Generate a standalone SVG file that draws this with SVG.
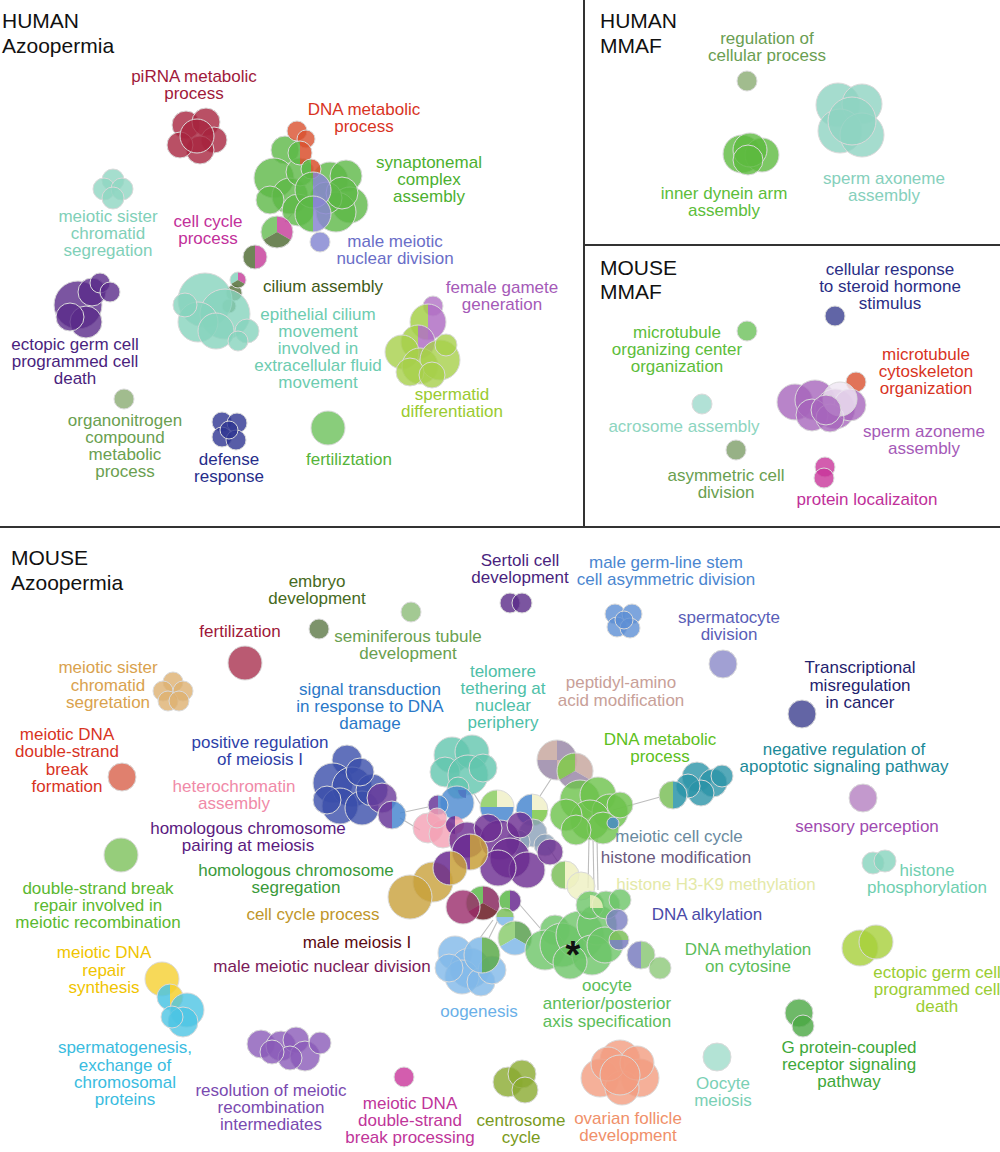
<svg xmlns="http://www.w3.org/2000/svg" width="1000" height="1152" viewBox="0 0 1000 1152">
<style>
text{font-family:"Liberation Sans",Arial,Helvetica,sans-serif;font-size:17px;text-anchor:middle}
.t{font-size:21px;fill:#111;text-anchor:start}
circle{fill-opacity:.8;stroke:#dadada;stroke-width:1}
.s{fill-opacity:.85;stroke:none}
.ol{fill:none;fill-opacity:0;stroke:#dadada;stroke-width:1}
.frame{stroke:#333;stroke-width:2}
.cn{stroke:#bdbdbd;stroke-width:1.1;fill:none}
</style>
<rect width="1000" height="1152" fill="#fff"/>
<g id="frames">
<line class="frame" x1="584" y1="0" x2="584" y2="527"/>
<line class="frame" x1="584" y1="245" x2="1000" y2="245"/>
<line class="frame" x1="0" y1="527" x2="1000" y2="527"/>
</g>
<g id="titles">
<text class="t" x="2" y="28">HUMAN</text><text class="t" x="2" y="53">Azoopermia</text>
<text class="t" x="600" y="28">HUMAN</text><text class="t" x="600" y="53">MMAF</text>
<text class="t" x="600" y="275">MOUSE</text><text class="t" x="600" y="299">MMAF</text>
<text class="t" x="11" y="565">MOUSE</text><text class="t" x="11" y="590">Azoopermia</text>
</g>
<g id="connectors">
<line class="cn" x1="400" y1="813" x2="428" y2="807"/>
<line class="cn" x1="400" y1="818" x2="420" y2="830"/>
<line class="cn" x1="613" y1="810" x2="660" y2="797"/>
<line class="cn" x1="589" y1="838" x2="588" y2="888"/>
<line class="cn" x1="593" y1="838" x2="594" y2="890"/>
<line class="cn" x1="597" y1="838" x2="598" y2="890"/>
<line class="cn" x1="493" y1="920" x2="480" y2="938"/>
<line class="cn" x1="498" y1="920" x2="489" y2="938"/>
<line class="cn" x1="520" y1="905" x2="540" y2="928"/>
<line class="cn" x1="548" y1="847" x2="558" y2="862"/>
<line class="cn" x1="540" y1="796" x2="551" y2="779"/>
<line class="cn" x1="473" y1="792" x2="481" y2="805"/>
<line class="cn" x1="292" y1="214" x2="285" y2="222"/>
</g>
<!-- HUMAN Azoopermia -->
<g id="h-pirna" fill="#a8243f">
<circle cx="186" cy="125" r="14"/><circle cx="206" cy="122" r="14"/><circle cx="214" cy="140" r="13"/><circle cx="200" cy="150" r="14"/><circle cx="180" cy="145" r="13"/><circle cx="197" cy="136" r="17"/>
<text fill="#a0193a"><tspan x="194" y="82">piRNA metabolic</tspan><tspan x="194" y="99">process</tspan></text>
</g>
<g id="h-sister" fill="#8fd6c2">
<circle cx="113" cy="180" r="11"/><circle cx="104" cy="189" r="11"/><circle cx="122" cy="189" r="11"/><circle cx="113" cy="198" r="11"/>
<text fill="#7fd0b8"><tspan x="108" y="222">meiotic sister</tspan><tspan x="108" y="239">chromatid</tspan><tspan x="108" y="256">segregation</tspan></text>
</g>
<g id="h-synaptonemal" fill="#5cb846">
<circle cx="285" cy="150" r="14"/><circle cx="274" cy="178" r="20"/><circle cx="290" cy="196" r="18"/><circle cx="270" cy="200" r="14"/><circle cx="300" cy="172" r="14"/><circle cx="330" cy="180" r="18"/><circle cx="346" cy="176" r="16"/><circle cx="350" cy="205" r="18"/><circle cx="336" cy="212" r="20"/><circle cx="326" cy="198" r="16"/><circle cx="298" cy="210" r="16"/><circle cx="342" cy="193" r="16"/>
<text fill="#4cb030"><tspan x="429" y="168">synaptonemal</tspan><tspan x="429" y="185">complex</tspan><tspan x="429" y="202">assembly</tspan></text>
</g>
<g id="h-dnametab">
<circle cx="297" cy="131" r="10" fill="#d9502e"/><circle cx="306" cy="139" r="9" fill="#d9502e"/>
<path class="s" fill="#5cb846" d="M300,141 A12,12 0 0 0 300,165 Z"/><path class="s" fill="#d9502e" d="M300,141 A12,12 0 0 1 300,165 Z"/><circle class="ol" cx="300" cy="153" r="12"/>
<path class="s" fill="#5cb846" d="M311,159 A10,10 0 0 0 311,179 Z"/><path class="s" fill="#d9502e" d="M311,159 A10,10 0 0 1 311,179 Z"/><circle class="ol" cx="311" cy="169" r="10"/>
<text fill="#d8341f"><tspan x="364" y="115">DNA metabolic</tspan><tspan x="364" y="132">process</tspan></text>
</g>
<g id="h-malemeiotic">
<path class="s" fill="#5cb846" d="M313,172 A18,18 0 0 0 313,208 Z"/><path class="s" fill="#8a86d2" d="M313,172 A18,18 0 0 1 313,208 Z"/><circle class="ol" cx="313" cy="190" r="18"/>
<path class="s" fill="#5cb846" d="M313,196 A18,18 0 0 0 313,232 Z"/><path class="s" fill="#8a86d2" d="M313,196 A18,18 0 0 1 313,232 Z"/><circle class="ol" cx="313" cy="214" r="18"/>
<circle cx="320" cy="242" r="10" fill="#7f82cf"/>
<text fill="#6a6ec8"><tspan x="395" y="247">male meiotic</tspan><tspan x="395" y="264">nuclear division</tspan></text>
</g>
<g id="h-cellcycle">
<path class="s" fill="#6cc05a" d="M277,232 L263.14,240 A16,16 0 0 1 277,216 Z"/><path class="s" fill="#c8449e" d="M277,232 L277,216 A16,16 0 0 1 290.86,240 Z"/><path class="s" fill="#55703a" d="M277,232 L290.86,240 A16,16 0 0 1 263.14,240 Z"/><circle class="ol" cx="277" cy="232" r="16"/>
<text fill="#c2309a"><tspan x="208" y="227">cell cycle</tspan><tspan x="208" y="244">process</tspan></text>
</g>
<g id="h-cilium">
<circle cx="234" cy="293" r="8" fill="#55703a"/><circle cx="229" cy="306" r="7" fill="#55703a"/>
<path class="s" fill="#55703a" d="M255,245 A12,12 0 0 0 255,269 Z"/><path class="s" fill="#c8449e" d="M255,245 A12,12 0 0 1 255,269 Z"/><circle class="ol" cx="255" cy="257" r="12"/>
<text fill="#3f5a18" x="323" y="292">cilium assembly</text>
</g>
<g id="h-epithelial" fill="#86d3bd">
<circle cx="205" cy="300" r="27"/><circle cx="225" cy="314" r="25"/><circle cx="198" cy="322" r="20"/><circle cx="216" cy="331" r="18"/><circle cx="247" cy="331" r="12"/><circle cx="238" cy="341" r="10"/><circle cx="185" cy="305" r="12"/>
<path class="s" fill="#86d3bd" d="M238,280 L231.07,284 A8,8 0 0 1 238,272 Z"/><path class="s" fill="#c8449e" d="M238,280 L238,272 A8,8 0 0 1 244.93,284 Z"/><path class="s" fill="#55703a" d="M238,280 L244.93,284 A8,8 0 0 1 231.07,284 Z"/><circle class="ol" cx="238" cy="280" r="8"/>
<text fill="#6dccb0"><tspan x="318" y="320">epithelial cilium</tspan><tspan x="318" y="337">movement</tspan><tspan x="318" y="354">involved in</tspan><tspan x="318" y="371">extracellular fluid</tspan><tspan x="318" y="388">movement</tspan></text>
</g>
<g id="h-female">
<circle cx="433" cy="306" r="10" fill="#b070c4"/>
<path class="s" fill="#a6d04a" d="M428,304 A18,18 0 0 0 428,340 Z"/><path class="s" fill="#b070c4" d="M428,304 A18,18 0 0 1 428,340 Z"/><circle class="ol" cx="428" cy="322" r="18"/>
<path class="s" fill="#a6d04a" d="M418,325 A17,17 0 0 0 418,359 Z"/><path class="s" fill="#b070c4" d="M418,325 A17,17 0 0 1 418,359 Z"/><circle class="ol" cx="418" cy="342" r="17"/>
<text fill="#a55ab8"><tspan x="502" y="293">female gamete</tspan><tspan x="502" y="310">generation</tspan></text>
</g>
<g id="h-spermatid" fill="#a6d04a">
<circle cx="402" cy="352" r="17"/><circle cx="420" cy="366" r="18"/><circle cx="440" cy="360" r="20"/><circle cx="410" cy="372" r="14"/><circle cx="432" cy="375" r="13"/><circle cx="446" cy="345" r="11"/>
<text fill="#9acb30"><tspan x="452" y="400">spermatid</tspan><tspan x="452" y="417">differentiation</tspan></text>
</g>
<g id="h-ectopic" fill="#5a2a8a">
<circle cx="78" cy="305" r="24"/><circle cx="92" cy="292" r="14"/><circle cx="100" cy="283" r="10"/><circle cx="110" cy="292" r="10"/><circle cx="86" cy="322" r="16"/><circle cx="70" cy="317" r="14"/>
<text fill="#4a1f7e"><tspan x="75" y="350">ectopic germ cell</tspan><tspan x="75" y="367">programmed cell</tspan><tspan x="75" y="384">death</tspan></text>
</g>
<g id="h-organonitrogen">
<circle cx="124" cy="399" r="10" fill="#8aab72"/>
<text fill="#6aa050"><tspan x="125" y="426">organonitrogen</tspan><tspan x="125" y="443">compound</tspan><tspan x="125" y="460">metabolic</tspan><tspan x="125" y="477">process</tspan></text>
</g>
<g id="h-defense" fill="#2e3591">
<circle cx="222" cy="422" r="10"/><circle cx="237" cy="423" r="10"/><circle cx="222" cy="437" r="10"/><circle cx="236" cy="440" r="10"/><circle cx="229" cy="430" r="9"/>
<text fill="#262d8a"><tspan x="229" y="465">defense</tspan><tspan x="229" y="482">response</tspan></text>
</g>
<g id="h-fertilization">
<circle cx="328" cy="428" r="17" fill="#6cc05a"/>
<text fill="#55b43a" x="349" y="465">fertiliztation</text>
</g>
<!-- HUMAN MMAF -->
<g id="hm-regulation">
<circle cx="747" cy="81" r="10" fill="#8aab72"/>
<text fill="#6a9e52"><tspan x="767" y="44">regulation of</tspan><tspan x="767" y="61">cellular process</tspan></text>
</g>
<g id="hm-axoneme" fill="#8fd3c2">
<circle cx="838" cy="105" r="22"/><circle cx="862" cy="104" r="20"/><circle cx="840" cy="131" r="22"/><circle cx="862" cy="135" r="22"/><circle cx="852" cy="121" r="24"/>
<text fill="#86d0bc"><tspan x="884" y="184">sperm axoneme</tspan><tspan x="884" y="201">assembly</tspan></text>
</g>
<g id="hm-dynein" fill="#5cba3e">
<circle cx="742" cy="154" r="19"/><circle cx="762" cy="155" r="17"/><circle cx="750" cy="150" r="17"/><circle cx="748" cy="160" r="15"/>
<text fill="#5cbd3a"><tspan x="724" y="199">inner dynein arm</tspan><tspan x="724" y="216">assembly</tspan></text>
</g>
<!-- MOUSE MMAF -->
<g id="mm-steroid">
<circle cx="835" cy="316" r="10" fill="#3a3f90"/>
<text fill="#2a2e85"><tspan x="890" y="275">cellular response</tspan><tspan x="890" y="292">to steroid hormone</tspan><tspan x="890" y="309">stimulus</tspan></text>
</g>
<g id="mm-mtoc">
<circle cx="747" cy="331" r="10" fill="#6cc05a"/>
<text fill="#5cbd3a"><tspan x="677" y="338">microtubule</tspan><tspan x="677" y="355">organizing center</tspan><tspan x="677" y="372">organization</tspan></text>
</g>
<g id="mm-cytoskeleton">
<circle cx="856" cy="382" r="10" fill="#d9502e"/>
<text fill="#d8341f"><tspan x="926" y="360">microtubule</tspan><tspan x="926" y="377">cytoskeleton</tspan><tspan x="926" y="394">organization</tspan></text>
</g>
<g id="mm-azoneme" fill="#a665bb">
<circle cx="795" cy="402" r="18"/><circle cx="815" cy="400" r="20"/><circle cx="835" cy="409" r="20"/><circle cx="850" cy="405" r="16"/><circle cx="812" cy="415" r="16"/><circle cx="830" cy="418" r="14"/><circle cx="840" cy="399" r="17" fill="#efe6f2"/><circle cx="826" cy="410" r="15"/>
<text fill="#a55ab8"><tspan x="924" y="437">sperm azoneme</tspan><tspan x="924" y="454">assembly</tspan></text>
</g>
<g id="mm-acrosome">
<circle cx="702" cy="404" r="10" fill="#9ddacc"/>
<text fill="#8dd5c0" x="684" y="432">acrosome assembly</text>
</g>
<g id="mm-asymmetric">
<circle cx="736" cy="450" r="10" fill="#7d9e68"/>
<text fill="#6aa050"><tspan x="726" y="481">asymmetric cell</tspan><tspan x="726" y="498">division</tspan></text>
</g>
<g id="mm-protein" fill="#c8359a">
<circle cx="825" cy="467" r="10"/><circle cx="824" cy="478" r="10"/>
<text fill="#c0309a" x="867" y="505">protein localizaiton</text>
</g>
<!-- MOUSE Azoopermia -->
<g id="m-embryo">
<circle cx="319" cy="629" r="10" fill="#5c7846"/>
<text fill="#466a22"><tspan x="317" y="587">embryo</tspan><tspan x="317" y="604">development</tspan></text>
</g>
<g id="m-sertoli" fill="#5a2a88">
<circle cx="510" cy="603" r="10"/><circle cx="522" cy="603" r="10"/>
<text fill="#4a1f7e"><tspan x="520" y="566">Sertoli cell</tspan><tspan x="520" y="583">development</tspan></text>
</g>
<g id="m-germline" fill="#5c8fd4">
<circle cx="615" cy="614" r="10"/><circle cx="632" cy="614" r="10"/><circle cx="617" cy="627" r="10"/><circle cx="630" cy="628" r="10"/><circle cx="624" cy="620" r="9"/>
<text fill="#4a86d0"><tspan x="666" y="568">male germ-line stem</tspan><tspan x="666" y="585">cell asymmetric division</tspan></text>
</g>
<g id="m-spermatocyte">
<circle cx="723" cy="664" r="14" fill="#8a88c8"/>
<text fill="#5a5eb8"><tspan x="729" y="623">spermatocyte</tspan><tspan x="729" y="640">division</tspan></text>
</g>
<g id="m-transcriptional">
<circle cx="802" cy="714" r="14" fill="#3c3f8e"/>
<text fill="#1f236e"><tspan x="860" y="673">Transcriptional</tspan><tspan x="860" y="691">misregulation</tspan><tspan x="860" y="708">in cancer</tspan></text>
</g>
<g id="m-seminiferous">
<circle cx="411" cy="612" r="10" fill="#8cbb78"/>
<text fill="#6aa050"><tspan x="408" y="642">seminiferous tubule</tspan><tspan x="408" y="659">development</tspan></text>
</g>
<g id="m-fertilization">
<circle cx="245" cy="663" r="17" fill="#a9314f"/>
<text fill="#9e1838" x="240" y="637">fertilization</text>
</g>
<g id="m-sister" fill="#ddb070">
<circle cx="173" cy="682" r="10"/><circle cx="163" cy="691" r="10"/><circle cx="183" cy="691" r="10"/><circle cx="168" cy="701" r="10"/><circle cx="179" cy="701" r="10"/>
<text fill="#d9a24e"><tspan x="108" y="673">meiotic sister</tspan><tspan x="108" y="691">chromatid</tspan><tspan x="108" y="708">segretation</tspan></text>
</g>
<g id="m-dsbformation">
<circle cx="122" cy="777" r="14" fill="#d8604a"/>
<text fill="#d8341f"><tspan x="67" y="740">meiotic DNA</tspan><tspan x="67" y="757">double-strand</tspan><tspan x="67" y="775">break</tspan><tspan x="67" y="792">formation</tspan></text>
</g>
<g id="m-posreg" fill="#3a4eaa">
<circle cx="347" cy="760" r="15"/><circle cx="333" cy="783" r="20"/><circle cx="352" cy="787" r="20"/><circle cx="340" cy="806" r="18"/><circle cx="362" cy="808" r="17"/><circle cx="372" cy="790" r="16"/><circle cx="327" cy="800" r="14"/><circle cx="360" cy="772" r="14"/>
<circle cx="382" cy="798" r="15" fill="#6a3a9a"/>
<path class="s" fill="#6a3a9a" d="M392,801 A14,14 0 0 0 392,829 Z"/><path class="s" fill="#4a88d0" d="M392,801 A14,14 0 0 1 392,829 Z"/><circle class="ol" cx="392" cy="815" r="14"/>
<text fill="#2e3fa8"><tspan x="260" y="748">positive regulation</tspan><tspan x="260" y="765">of meiosis I</tspan></text>
</g>
<g id="m-telomere" fill="#62c6ae">
<circle cx="452" cy="755" r="18"/><circle cx="472" cy="752" r="17"/><circle cx="445" cy="772" r="15"/><circle cx="468" cy="775" r="20"/><circle cx="483" cy="768" r="14"/><circle cx="458" cy="788" r="11"/>
<path class="s" fill="#6a2a90" d="M466,790 L466,798 A8,8 0 0 1 458,790 Z"/>
<text fill="#4ec0a8"><tspan x="503" y="677">telomere</tspan><tspan x="503" y="694">tethering at</tspan><tspan x="503" y="711">nuclear</tspan><tspan x="503" y="728">periphery</tspan></text>
</g>
<g id="m-signal">
<circle cx="457" cy="803" r="17" fill="#4a88d0"/>
<path class="s" fill="#6a3a9a" d="M438,795 A10,10 0 0 0 438,815 Z"/><path class="s" fill="#4a88d0" d="M438,795 A10,10 0 0 1 438,815 Z"/><circle class="ol" cx="438" cy="805" r="10"/>
<text fill="#2a78c8"><tspan x="370" y="695">signal transduction</tspan><tspan x="370" y="712">in response to DNA</tspan><tspan x="370" y="729">damage</tspan></text>
</g>
<g id="m-heterochromatin" fill="#f4a0b4">
<circle cx="428" cy="828" r="15"/><circle cx="443" cy="834" r="14"/><circle cx="437" cy="818" r="10"/>
<path class="s" fill="#6a2a90" d="M455,816 A9,9 0 0 0 455,834 Z"/><path class="s" fill="#f4a0b4" d="M455,816 A9,9 0 0 1 455,834 Z"/>
<text fill="#f08aa8"><tspan x="234" y="792">heterochromatin</tspan><tspan x="234" y="809">assembly</tspan></text>
</g>
<g id="m-peptidyl">
<path class="s" fill="#c8a8a0" d="M557,760 L537,760 A20,20 0 0 1 557,740 Z"/><path class="s" fill="#9a88a8" d="M557,760 L557,740 A20,20 0 0 1 577,760 Z"/><path class="s" fill="#c8a8a0" d="M557,760 L577,760 A20,20 0 0 1 557,780 Z"/><path class="s" fill="#9a88a8" d="M557,760 L557,780 A20,20 0 0 1 537,760 Z"/><circle class="ol" cx="557" cy="760" r="20"/>
<path class="s" fill="#7cc84a" d="M575,771 L559.41,780 A18,18 0 0 1 575,753 Z"/><path class="s" fill="#c8a8a0" d="M575,771 L575,753 A18,18 0 0 1 590.59,780 Z"/><path class="s" fill="#9a88a8" d="M575,771 L590.59,780 A18,18 0 0 1 559.41,780 Z"/><circle class="ol" cx="575" cy="771" r="18"/>
<text fill="#c8a098"><tspan x="621" y="688">peptidyl-amino</tspan><tspan x="621" y="706">acid modification</tspan></text>
</g>
<g id="m-pies">
<path class="s" fill="#8ccc60" d="M497,807 L480,807 A17,17 0 0 1 497,790 Z"/><path class="s" fill="#f0f0c8" d="M497,807 L497,790 A17,17 0 0 1 514,807 Z"/><path class="s" fill="#4a88d0" d="M480,807 A17,17 0 0 0 514,807 Z"/><circle class="ol" cx="497" cy="807" r="17"/>
<path class="s" fill="#4a88d0" d="M532,794 A16,16 0 0 0 532,826 Z"/><path class="s" fill="#f0f0c8" d="M532,810 L532,794 A16,16 0 0 1 548,810 Z"/><path class="s" fill="#7cc84a" d="M532,810 L548,810 A16,16 0 0 1 532,826 Z"/><circle class="ol" cx="532" cy="810" r="16"/>
</g>
<g id="m-dnametab" fill="#6cc24a">
<circle cx="580" cy="800" r="20"/><circle cx="598" cy="795" r="18"/><circle cx="610" cy="812" r="18"/><circle cx="590" cy="820" r="20"/><circle cx="566" cy="815" r="16"/><circle cx="603" cy="828" r="16"/><circle cx="576" cy="830" r="15"/><circle cx="620" cy="805" r="13"/>
<circle cx="613" cy="823" r="6" fill="#4a88d0"/>
<text fill="#5cc020"><tspan x="660" y="745">DNA metabolic</tspan><tspan x="660" y="762">process</tspan></text>
</g>
<g id="m-negreg" fill="#2a94a8">
<circle cx="697" cy="777" r="15"/><circle cx="713" cy="783" r="14"/><circle cx="701" cy="793" r="13"/><circle cx="688" cy="786" r="12"/><circle cx="722" cy="776" r="11"/>
<path class="s" fill="#7cc05a" d="M673,781 A14,14 0 0 0 673,809 Z"/><path class="s" fill="#2a94a8" d="M673,781 A14,14 0 0 1 673,809 Z"/><circle class="ol" cx="673" cy="795" r="14"/>
<text fill="#1b8a98"><tspan x="844" y="755">negative regulation of</tspan><tspan x="844" y="772">apoptotic signaling pathway</tspan></text>
</g>
<g id="m-sensory">
<circle cx="863" cy="798" r="14" fill="#b480c0"/>
<text fill="#a04ab0" x="867" y="832">sensory perception</text>
</g>
<g id="m-meioticcycle" fill="#8aa0b8">
<circle cx="533" cy="833" r="14"/><circle cx="518" cy="842" r="12"/><circle cx="545" cy="845" r="11"/>
<text fill="#6a8aa0" x="679" y="842">meiotic cell cycle</text>
</g>
<g id="m-pairing" fill="#6a2a90">
<circle cx="467" cy="840" r="18"/><circle cx="500" cy="840" r="20"/><circle cx="510" cy="858" r="20"/><circle cx="527" cy="870" r="18"/><circle cx="498" cy="868" r="18"/><circle cx="550" cy="852" r="13"/><circle cx="488" cy="828" r="14"/><circle cx="520" cy="825" r="13"/>
<text fill="#5a1a80"><tspan x="248" y="834">homologous chromosome</tspan><tspan x="248" y="851">pairing at meiosis</tspan></text>
</g>
<g id="m-histmod">
<text fill="#6a5a80" x="676" y="863">histone modification</text>
</g>
<g id="m-cellcycle" fill="#c8a03a">
<circle cx="433" cy="882" r="20"/><circle cx="410" cy="897" r="22"/>
<path class="s" fill="#6a2a90" d="M470,834 A18,18 0 0 0 470,870 Z"/><path class="s" fill="#c8a03a" d="M470,834 A18,18 0 0 1 470,870 Z"/><circle class="ol" cx="470" cy="852" r="18"/>
<path class="s" fill="#6a2a90" d="M450,851 A17,17 0 0 0 450,885 Z"/><path class="s" fill="#c8a03a" d="M450,851 A17,17 0 0 1 450,885 Z"/><circle class="ol" cx="450" cy="868" r="17"/>
<text fill="#c0962a" x="313" y="920">cell cycle process</text>
</g>
<g id="m-segregation">
<path class="s" fill="#5cb84a" d="M483,903 L468.28,911.5 A17,17 0 0 1 483,886 Z"/><path class="s" fill="#8a2a60" d="M483,903 L483,886 A17,17 0 0 1 497.72,911.5 Z"/><path class="s" fill="#6a1a22" d="M483,903 L497.72,911.5 A17,17 0 0 1 468.28,911.5 Z"/><circle class="ol" cx="483" cy="903" r="17"/>
<path class="s" fill="#5cb84a" d="M510,890 A11,11 0 0 0 510,912 Z"/><path class="s" fill="#6a2a90" d="M510,890 A11,11 0 0 1 510,912 Z"/><circle class="ol" cx="510" cy="901" r="11"/>
<text fill="#3a9a3a"><tspan x="296" y="876">homologous chromosome</tspan><tspan x="296" y="893">segregation</tspan></text>
</g>
<g id="m-malemeiosis">
<circle cx="463" cy="907" r="17" fill="#9a2a6a"/>
<text fill="#5a0a12" x="357" y="948">male meiosis I</text>
</g>
<g id="m-malediv">
<text fill="#7a1a5a" x="322" y="972">male meiotic nuclear division</text>
</g>
<g id="m-oogenesis" fill="#80b8e8">
<circle cx="455" cy="953" r="17"/><circle cx="470" cy="968" r="20"/><circle cx="462" cy="977" r="17"/><circle cx="481" cy="982" r="14"/><circle cx="449" cy="968" r="14"/><circle cx="492" cy="970" r="14"/>
<path class="s" fill="#80b8e8" d="M496,917 A9,9 0 0 0 514,917 Z"/><path class="s" fill="#7cc05a" d="M496,917 A9,9 0 0 1 514,917 Z"/><circle class="ol" cx="505" cy="917" r="9"/>
<path class="s" fill="#80b8e8" d="M482,937 A18,18 0 0 0 482,973 Z"/><path class="s" fill="#5caa4a" d="M482,937 A18,18 0 0 1 482,973 Z"/><circle class="ol" cx="482" cy="955" r="18"/>
<path class="s" fill="#8ccc70" d="M515,938 L500.28,946.5 A17,17 0 0 1 515,921 Z"/><path class="s" fill="#5aa050" d="M515,938 L515,921 A17,17 0 0 1 529.72,946.5 Z"/><path class="s" fill="#80b8e8" d="M515,938 L529.72,946.5 A17,17 0 0 1 500.28,946.5 Z"/><circle class="ol" cx="515" cy="938" r="17"/>
<text fill="#6ab0e8" x="479" y="1017">oogenesis</text>
</g>
<g id="m-h3k9">
<path class="s" fill="#7cc05a" d="M565,861 A14,14 0 0 0 565,889 Z"/><path class="s" fill="#eef0c0" d="M565,861 A14,14 0 0 1 565,889 Z"/><circle class="ol" cx="565" cy="875" r="14"/>
<circle cx="581" cy="886" r="14" fill="#eef0c0"/>
<text fill="#e4e9a8" x="716" y="890">histone H3-K9 methylation</text>
</g>
<g id="m-oocyte" fill="#6cc466">
<circle cx="555" cy="930" r="15"/><circle cx="545" cy="950" r="20"/><circle cx="562" cy="945" r="22"/><circle cx="580" cy="935" r="24"/><circle cx="597" cy="925" r="20"/><circle cx="592" cy="955" r="20"/><circle cx="570" cy="962" r="17"/><circle cx="605" cy="945" r="18"/><circle cx="590" cy="905" r="14"/><circle cx="606" cy="905" r="14"/><circle cx="620" cy="900" r="11"/>
<path class="s" fill="#eef0c0" d="M590,908 L590,895 A13,13 0 0 1 603,908 Z"/>
<text fill="#5cbd5a"><tspan x="607" y="991">oocyte</tspan><tspan x="607" y="1009">anterior/posterior</tspan><tspan x="607" y="1027">axis specification</tspan></text>
<text x="573" y="968" fill="#111" style="font-size:38px;font-weight:bold">*</text>
</g>
<g id="m-alkylation">
<circle cx="617" cy="920" r="11" fill="#7a7ec0"/>
<path class="s" fill="#7cc05a" d="M609,940 A10,10 0 0 1 629,940 Z"/><path class="s" fill="#7a7ec0" d="M609,940 A10,10 0 0 0 629,940 Z"/><circle class="ol" cx="619" cy="940" r="10"/>
<text fill="#4a4aa8" x="707" y="920">DNA alkylation</text>
</g>
<g id="m-methylation">
<path class="s" fill="#7a7ec0" d="M641,941 A14,14 0 0 0 641,969 Z"/><path class="s" fill="#8cc878" d="M641,941 A14,14 0 0 1 641,969 Z"/><circle class="ol" cx="641" cy="955" r="14"/>
<circle cx="660" cy="968" r="11" fill="#8cc878"/>
<text fill="#5cbd5a"><tspan x="748" y="955">DNA methylation</tspan><tspan x="748" y="972">on cytosine</tspan></text>
</g>
<g id="m-dsbrepair">
<circle cx="121" cy="855" r="17" fill="#7cc05a"/>
<text fill="#5ab830"><tspan x="98" y="894">double-strand break</tspan><tspan x="98" y="911">repair involved in</tspan><tspan x="98" y="928">meiotic recombination</tspan></text>
</g>
<g id="m-phos" fill="#86d3bd">
<circle cx="873" cy="863" r="11"/><circle cx="885" cy="861" r="11"/>
<text fill="#6fcfb0"><tspan x="927" y="876">histone</tspan><tspan x="927" y="893">phosphorylation</tspan></text>
</g>
<g id="m-ectopic" fill="#a6cf3a">
<circle cx="860" cy="948" r="18"/><circle cx="876" cy="942" r="17"/>
<text fill="#9acd32"><tspan x="937" y="978">ectopic germ cell</tspan><tspan x="937" y="995">programmed cell</tspan><tspan x="937" y="1012">death</tspan></text>
</g>
<g id="m-repairsynth">
<circle cx="162" cy="979" r="17" fill="#f5d030"/>
<text fill="#f0c400"><tspan x="104" y="958">meiotic DNA</tspan><tspan x="104" y="976">repair</tspan><tspan x="104" y="993">synthesis</tspan></text>
</g>
<g id="m-spermatogenesis" fill="#4cc4e4">
<path class="s" fill="#4cc4e4" d="M170,984 A13,13 0 0 0 170,1010 Z"/><path class="s" fill="#f5d030" d="M170,984 A13,13 0 0 1 170,1010 Z"/><circle class="ol" cx="170" cy="997" r="13"/>
<circle cx="187" cy="1010" r="17"/><circle cx="183" cy="1022" r="15"/><circle cx="172" cy="1017" r="11"/>
<text fill="#3abce0"><tspan x="125" y="1053">spermatogenesis,</tspan><tspan x="125" y="1071">exchange of</tspan><tspan x="125" y="1088">chromosomal</tspan><tspan x="125" y="1105">proteins</tspan></text>
</g>
<g id="m-gprotein" fill="#4aa842">
<circle cx="799" cy="1013" r="14"/><circle cx="803" cy="1026" r="11"/>
<text fill="#3ea83a"><tspan x="849" y="1053">G protein-coupled</tspan><tspan x="849" y="1070">receptor signaling</tspan><tspan x="849" y="1087">pathway</tspan></text>
</g>
<g id="m-resolution" fill="#8a5ab8">
<circle cx="261" cy="1044" r="14"/><circle cx="281" cy="1046" r="15"/><circle cx="296" cy="1040" r="13"/><circle cx="305" cy="1056" r="15"/><circle cx="320" cy="1043" r="11"/><circle cx="290" cy="1058" r="12"/><circle cx="272" cy="1052" r="12"/>
<text fill="#7a4ab0"><tspan x="271" y="1096">resolution of meiotic</tspan><tspan x="271" y="1113">recombination</tspan><tspan x="271" y="1130">intermediates</tspan></text>
</g>
<g id="m-dsbprocessing">
<circle cx="404" cy="1077" r="10" fill="#c8359a"/>
<text fill="#c0359a"><tspan x="410" y="1109">meiotic DNA</tspan><tspan x="410" y="1126">double-strand</tspan><tspan x="410" y="1143">break processing</tspan></text>
</g>
<g id="m-centrosome" fill="#8aaa30">
<circle cx="508" cy="1082" r="15"/><circle cx="522" cy="1074" r="14"/><circle cx="525" cy="1090" r="13"/>
<text fill="#7a9a20"><tspan x="521" y="1126">centrosome</tspan><tspan x="521" y="1143">cycle</tspan></text>
</g>
<g id="m-ovarian" fill="#f29c80">
<circle cx="620" cy="1060" r="20"/><circle cx="600" cy="1078" r="19"/><circle cx="640" cy="1078" r="19"/><circle cx="622" cy="1088" r="17"/><circle cx="608" cy="1064" r="17"/><circle cx="637" cy="1063" r="17"/><circle cx="620" cy="1075" r="20"/>
<text fill="#f0906a"><tspan x="628" y="1124">ovarian follicle</tspan><tspan x="628" y="1141">development</tspan></text>
</g>
<g id="m-oocytemeiosis">
<circle cx="717" cy="1057" r="14" fill="#a0dccb"/>
<text fill="#7ad0b5"><tspan x="723" y="1089">Oocyte</tspan><tspan x="723" y="1106">meiosis</tspan></text>
</g>
</svg>
